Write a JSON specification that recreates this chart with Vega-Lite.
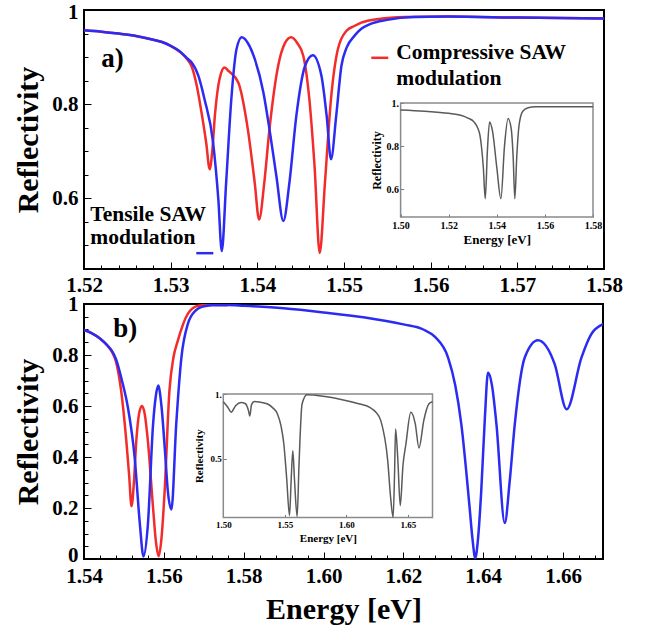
{
  "$schema": "https://vega.github.io/schema/vega-lite/v6.json",
  "padding": {"left": 12, "top": 0, "right": 5, "bottom": 5},
  "background": "white",
  "spacing": 35,
  "bounds": "flush",
  "config": {
    "view": {"stroke": "black", "strokeWidth": 2},
    "font": "Liberation Serif",
    "axis": {
      "labelFont": "Liberation Serif",
      "titleFont": "Liberation Serif",
      "labelFontWeight": "bold",
      "titleFontWeight": "bold",
      "labelColor": "black",
      "titleColor": "black",
      "grid": false,
      "domain": false,
      "tickColor": "black",
      "labelFlush": false,
      "labelOverlap": false,
      "zindex": 1
    }
  },
  "datasets": {
    "aRed": [
      {"E": 1.520, "R": 0.957}, {"E": 1.522, "R": 0.954}, {"E": 1.524, "R": 0.950}, {"E": 1.526, "R": 0.945},
      {"E": 1.528, "R": 0.937}, {"E": 1.529, "R": 0.932}, {"E": 1.530, "R": 0.924}, {"E": 1.531, "R": 0.912},
      {"E": 1.532, "R": 0.893}, {"E": 1.5324, "R": 0.881}, {"E": 1.5330, "R": 0.840}, {"E": 1.5335, "R": 0.789},
      {"E": 1.5341, "R": 0.718}, {"E": 1.5345, "R": 0.662}, {"E": 1.5348, "R": 0.700}, {"E": 1.5351, "R": 0.775},
      {"E": 1.5355, "R": 0.840}, {"E": 1.5358, "R": 0.865}, {"E": 1.5362, "R": 0.878}, {"E": 1.5367, "R": 0.870},
      {"E": 1.5378, "R": 0.846}, {"E": 1.5389, "R": 0.747}, {"E": 1.5397, "R": 0.633}, {"E": 1.5402, "R": 0.555},
      {"E": 1.5408, "R": 0.633}, {"E": 1.5414, "R": 0.747}, {"E": 1.5424, "R": 0.881}, {"E": 1.5432, "R": 0.930},
      {"E": 1.5439, "R": 0.942}, {"E": 1.5446, "R": 0.930}, {"E": 1.5453, "R": 0.903}, {"E": 1.5460, "R": 0.811},
      {"E": 1.5466, "R": 0.669}, {"E": 1.5472, "R": 0.484}, {"E": 1.5478, "R": 0.633}, {"E": 1.5485, "R": 0.811},
      {"E": 1.5493, "R": 0.917}, {"E": 1.5503, "R": 0.956}, {"E": 1.5512, "R": 0.966}, {"E": 1.552, "R": 0.973},
      {"E": 1.554, "R": 0.981}, {"E": 1.557, "R": 0.985}, {"E": 1.562, "R": 0.986}, {"E": 1.570, "R": 0.984},
      {"E": 1.580, "R": 0.982}
    ],
    "aBlue": [
      {"E": 1.520, "R": 0.957}, {"E": 1.522, "R": 0.954}, {"E": 1.524, "R": 0.950}, {"E": 1.526, "R": 0.945},
      {"E": 1.528, "R": 0.937}, {"E": 1.529, "R": 0.932}, {"E": 1.530, "R": 0.924}, {"E": 1.531, "R": 0.913},
      {"E": 1.532, "R": 0.896}, {"E": 1.5324, "R": 0.889}, {"E": 1.5332, "R": 0.860}, {"E": 1.5339, "R": 0.811},
      {"E": 1.5349, "R": 0.718}, {"E": 1.5355, "R": 0.598}, {"E": 1.5359, "R": 0.488}, {"E": 1.5364, "R": 0.633},
      {"E": 1.5370, "R": 0.811}, {"E": 1.5376, "R": 0.917}, {"E": 1.5382, "R": 0.942}, {"E": 1.5389, "R": 0.930},
      {"E": 1.5397, "R": 0.896}, {"E": 1.5407, "R": 0.825}, {"E": 1.5414, "R": 0.747}, {"E": 1.5422, "R": 0.647},
      {"E": 1.5430, "R": 0.552}, {"E": 1.5437, "R": 0.633}, {"E": 1.5445, "R": 0.775}, {"E": 1.5455, "R": 0.881},
      {"E": 1.5464, "R": 0.904}, {"E": 1.5474, "R": 0.860}, {"E": 1.5480, "R": 0.775}, {"E": 1.5485, "R": 0.683},
      {"E": 1.5491, "R": 0.775}, {"E": 1.5497, "R": 0.881}, {"E": 1.5503, "R": 0.920}, {"E": 1.5512, "R": 0.945},
      {"E": 1.552, "R": 0.960}, {"E": 1.553, "R": 0.970}, {"E": 1.555, "R": 0.979}, {"E": 1.558, "R": 0.985},
      {"E": 1.562, "R": 0.986}, {"E": 1.570, "R": 0.984}, {"E": 1.580, "R": 0.982}
    ],
    "aIn": [
      {"E": 1.500, "R": 0.968}, {"E": 1.510, "R": 0.962}, {"E": 1.520, "R": 0.952}, {"E": 1.525, "R": 0.943},
      {"E": 1.528, "R": 0.930}, {"E": 1.5306, "R": 0.911}, {"E": 1.532, "R": 0.885}, {"E": 1.533, "R": 0.850},
      {"E": 1.5336, "R": 0.800}, {"E": 1.5344, "R": 0.700}, {"E": 1.5352, "R": 0.555}, {"E": 1.5361, "R": 0.780},
      {"E": 1.5370, "R": 0.912}, {"E": 1.5382, "R": 0.870}, {"E": 1.5400, "R": 0.700}, {"E": 1.5417, "R": 0.555},
      {"E": 1.5432, "R": 0.800}, {"E": 1.5447, "R": 0.928}, {"E": 1.5460, "R": 0.880}, {"E": 1.5468, "R": 0.750},
      {"E": 1.5475, "R": 0.555}, {"E": 1.5483, "R": 0.750}, {"E": 1.5493, "R": 0.900}, {"E": 1.5508, "R": 0.962},
      {"E": 1.553, "R": 0.978}, {"E": 1.556, "R": 0.983}, {"E": 1.580, "R": 0.982}
    ],
    "bRed": [
      {"E": 1.540, "R": 0.898}, {"E": 1.542, "R": 0.885}, {"E": 1.544, "R": 0.865}, {"E": 1.546, "R": 0.835},
      {"E": 1.547, "R": 0.812}, {"E": 1.548, "R": 0.775}, {"E": 1.5493, "R": 0.660}, {"E": 1.5506, "R": 0.463},
      {"E": 1.5513, "R": 0.330}, {"E": 1.5519, "R": 0.207}, {"E": 1.5525, "R": 0.300}, {"E": 1.5531, "R": 0.463},
      {"E": 1.5538, "R": 0.570}, {"E": 1.5545, "R": 0.600}, {"E": 1.5552, "R": 0.570}, {"E": 1.5560, "R": 0.463},
      {"E": 1.5573, "R": 0.200}, {"E": 1.5580, "R": 0.070}, {"E": 1.5587, "R": 0.011}, {"E": 1.5594, "R": 0.080},
      {"E": 1.5602, "R": 0.266}, {"E": 1.5614, "R": 0.660}, {"E": 1.5624, "R": 0.790}, {"E": 1.5635, "R": 0.856},
      {"E": 1.5660, "R": 0.961}, {"E": 1.5686, "R": 0.993}, {"E": 1.572, "R": 0.997}, {"E": 1.576, "R": 0.995}
    ],
    "bBlue": [
      {"E": 1.540, "R": 0.898}, {"E": 1.542, "R": 0.885}, {"E": 1.544, "R": 0.865}, {"E": 1.546, "R": 0.835},
      {"E": 1.547, "R": 0.816}, {"E": 1.548, "R": 0.785}, {"E": 1.5495, "R": 0.700}, {"E": 1.5510, "R": 0.594},
      {"E": 1.5527, "R": 0.397}, {"E": 1.5540, "R": 0.136}, {"E": 1.5549, "R": 0.010}, {"E": 1.5560, "R": 0.135},
      {"E": 1.5573, "R": 0.528}, {"E": 1.5580, "R": 0.640}, {"E": 1.5586, "R": 0.680}, {"E": 1.5594, "R": 0.600},
      {"E": 1.5603, "R": 0.420}, {"E": 1.5610, "R": 0.266}, {"E": 1.5619, "R": 0.194}, {"E": 1.5631, "R": 0.528},
      {"E": 1.5644, "R": 0.790}, {"E": 1.5660, "R": 0.921}, {"E": 1.5680, "R": 0.975}, {"E": 1.5698, "R": 0.990},
      {"E": 1.572, "R": 0.995}, {"E": 1.576, "R": 0.996}, {"E": 1.580, "R": 0.993}, {"E": 1.590, "R": 0.983},
      {"E": 1.600, "R": 0.967}, {"E": 1.610, "R": 0.948}, {"E": 1.620, "R": 0.920}, {"E": 1.625, "R": 0.900},
      {"E": 1.628, "R": 0.870}, {"E": 1.6312, "R": 0.790}, {"E": 1.633, "R": 0.680}, {"E": 1.6345, "R": 0.530},
      {"E": 1.6366, "R": 0.200}, {"E": 1.6373, "R": 0.080}, {"E": 1.638, "R": 0.004}, {"E": 1.6387, "R": 0.080},
      {"E": 1.6395, "R": 0.266}, {"E": 1.6404, "R": 0.550}, {"E": 1.6412, "R": 0.731}, {"E": 1.6422, "R": 0.680},
      {"E": 1.6433, "R": 0.530}, {"E": 1.6454, "R": 0.141}, {"E": 1.6466, "R": 0.300}, {"E": 1.6479, "R": 0.528},
      {"E": 1.6504, "R": 0.790}, {"E": 1.6537, "R": 0.858}, {"E": 1.6579, "R": 0.764}, {"E": 1.6609, "R": 0.587},
      {"E": 1.6646, "R": 0.790}, {"E": 1.6670, "R": 0.880}, {"E": 1.6700, "R": 0.921}
    ],
    "bIn": [
      {"E": 1.500, "R": 0.940}, {"E": 1.5035, "R": 0.900}, {"E": 1.5064, "R": 0.860}, {"E": 1.510, "R": 0.910},
      {"E": 1.5145, "R": 0.935}, {"E": 1.518, "R": 0.925}, {"E": 1.5205, "R": 0.870}, {"E": 1.5215, "R": 0.830},
      {"E": 1.523, "R": 0.920}, {"E": 1.5252, "R": 0.943}, {"E": 1.530, "R": 0.937}, {"E": 1.536, "R": 0.923},
      {"E": 1.540, "R": 0.895}, {"E": 1.544, "R": 0.846}, {"E": 1.547, "R": 0.750}, {"E": 1.5492, "R": 0.615},
      {"E": 1.5515, "R": 0.350}, {"E": 1.5538, "R": 0.064}, {"E": 1.5552, "R": 0.350}, {"E": 1.5565, "R": 0.564},
      {"E": 1.5578, "R": 0.350}, {"E": 1.5600, "R": 0.056}, {"E": 1.5615, "R": 0.450}, {"E": 1.564, "R": 0.923},
      {"E": 1.568, "R": 0.995}, {"E": 1.575, "R": 0.990}, {"E": 1.5948, "R": 0.960}, {"E": 1.610, "R": 0.925},
      {"E": 1.619, "R": 0.897}, {"E": 1.624, "R": 0.860}, {"E": 1.628, "R": 0.795}, {"E": 1.6336, "R": 0.487},
      {"E": 1.636, "R": 0.200}, {"E": 1.638, "R": 0.000}, {"E": 1.6392, "R": 0.400}, {"E": 1.640, "R": 0.730},
      {"E": 1.6418, "R": 0.500}, {"E": 1.6438, "R": 0.141}, {"E": 1.646, "R": 0.450}, {"E": 1.6484, "R": 0.615},
      {"E": 1.6524, "R": 0.859}, {"E": 1.656, "R": 0.770}, {"E": 1.659, "R": 0.585}, {"E": 1.663, "R": 0.800},
      {"E": 1.667, "R": 0.923}, {"E": 1.670, "R": 0.940}
    ]
  },
  "vconcat": [
    {
      "width": 520,
      "height": 259,
      "resolve": {"scale": {"x": "independent", "y": "independent"}},
      "layer": [
        {
          "layer": [
            {
              "data": {"name": "aRed"},
              "mark": {"type": "line", "color": "#f22b2b", "strokeWidth": 2.5, "interpolate": "monotone", "clip": true},
              "encoding": {
                "x": {"field": "E", "type": "quantitative",
                  "scale": {"domain": [1.52, 1.58], "nice": false, "zero": false},
                  "axis": {"orient": "bottom", "values": [1.52, 1.53, 1.54, 1.55, 1.56, 1.57, 1.58], "format": ".2f", "title": null,
                    "labelFontSize": 21, "tickSize": 7, "offset": -7, "labelPadding": 5}},
                "y": {"field": "R", "type": "quantitative",
                  "scale": {"domain": [0.45, 1.0], "nice": false, "zero": false},
                  "axis": {"orient": "left", "values": [0.6, 0.8, 1.0], "labelExpr": "datum.value == 1 ? '1' : format(datum.value, '.1f')",
                    "labelOffset": {"condition": {"test": "datum.value == 1", "value": 2}, "value": 0},
                    "title": "Reflectivity", "titleFontSize": 30, "labelFontSize": 21, "tickSize": 7, "offset": -7, "labelPadding": 6, "titlePadding": 8}}
              }
            },
            {
              "data": {"name": "aBlue"},
              "mark": {"type": "line", "color": "#2b2bf2", "strokeWidth": 2.5, "interpolate": "monotone", "clip": true},
              "encoding": {
                "x": {"field": "E", "type": "quantitative", "scale": {"domain": [1.52, 1.58], "nice": false, "zero": false}},
                "y": {"field": "R", "type": "quantitative", "scale": {"domain": [0.45, 1.0], "nice": false, "zero": false}}
              }
            },
            {
              "data": {"values": [
                {"E": 1.52073, "R": 0.5645, "label": "Tensile SAW"},
                {"E": 1.52073, "R": 0.5155, "label": "modulation"},
                {"E": 1.55603, "R": 0.909, "label": "Compressive SAW"},
                {"E": 1.55603, "R": 0.854, "label": "modulation"}
              ]},
              "mark": {"type": "text", "align": "left", "baseline": "middle", "font": "Liberation Serif", "fontWeight": "bold", "fontSize": 21.5, "color": "black"},
              "encoding": {
                "x": {"field": "E", "type": "quantitative", "scale": {"domain": [1.52, 1.58], "nice": false, "zero": false}},
                "y": {"field": "R", "type": "quantitative", "scale": {"domain": [0.45, 1.0], "nice": false, "zero": false}},
                "text": {"field": "label"}
              }
            },
            {
              "data": {"values": [{"E": 1.5220, "R": 0.896, "label": "a)"}]},
              "mark": {"type": "text", "align": "left", "baseline": "middle", "font": "Liberation Serif", "fontWeight": "bold", "fontSize": 27, "color": "black"},
              "encoding": {
                "x": {"field": "E", "type": "quantitative", "scale": {"domain": [1.52, 1.58], "nice": false, "zero": false}},
                "y": {"field": "R", "type": "quantitative", "scale": {"domain": [0.45, 1.0], "nice": false, "zero": false}},
                "text": {"field": "label"}
              }
            },
            {
              "data": {"values": [
                {"E": 1.53296, "E2": 1.53492, "R": 0.4836, "series": "Tensile"},
                {"E": 1.55315, "E2": 1.55511, "R": 0.8985, "series": "Compressive"}
              ]},
              "mark": {"type": "rule", "strokeWidth": 2.5},
              "encoding": {
                "x": {"field": "E", "type": "quantitative", "scale": {"domain": [1.52, 1.58], "nice": false, "zero": false}},
                "x2": {"field": "E2"},
                "y": {"field": "R", "type": "quantitative", "scale": {"domain": [0.45, 1.0], "nice": false, "zero": false}},
                "color": {"field": "series", "type": "nominal", "scale": {"domain": ["Tensile", "Compressive"], "range": ["#2b2bf2", "#f22b2b"]}, "legend": null}
              }
            }
          ]
        },
        {
          "data": {"name": "aRed"},
          "mark": {"type": "point", "opacity": 0},
          "encoding": {
            "x": {"field": "E", "type": "quantitative",
              "scale": {"domain": [1.52, 1.58], "nice": false, "zero": false},
              "axis": {"orient": "bottom", "values": [1.522, 1.524, 1.526, 1.528, 1.532, 1.534, 1.536, 1.538, 1.542, 1.544, 1.546, 1.548, 1.552, 1.554, 1.556, 1.558, 1.562, 1.564, 1.566, 1.568, 1.572, 1.574, 1.576, 1.578],
                "labels": false, "title": null, "tickSize": 4, "offset": -4}},
            "y": {"field": "R", "type": "quantitative",
              "scale": {"domain": [0.45, 1.0], "nice": false, "zero": false},
              "axis": {"orient": "left", "values": [0.5, 0.55, 0.65, 0.7, 0.75, 0.85, 0.9, 0.95],
                "labels": false, "title": null, "tickSize": 4, "offset": -4}}
          }
        },
        {
          "layer": [
            {
              "data": {"values": [{"e0": 1.50, "e1": 1.58, "r0": 0.47, "r1": 1.0}]},
              "mark": {"type": "rect", "fillOpacity": 0, "stroke": "#8a8a8a", "strokeWidth": 1.5},
              "encoding": {
                "x": {"field": "e0", "type": "quantitative",
                  "scale": {"domain": [1.50, 1.58], "range": [316.6, 509], "nice": false, "zero": false},
                  "axis": {"orient": "bottom", "offset": -55, "values": [1.50, 1.52, 1.54, 1.56, 1.58], "format": ".2f",
                    "title": "Energy [eV]", "titleFontSize": 13, "labelFontSize": 10, "tickSize": 3, "tickColor": "#777",
                    "labelPadding": 3, "titlePadding": 3}},
                "x2": {"field": "e1"},
                "y": {"field": "r0", "type": "quantitative",
                  "scale": {"domain": [0.47, 1.0], "range": [207, 93], "nice": false, "zero": false},
                  "axis": {"orient": "left", "offset": -319.6, "values": [0.6, 0.8, 1.0], "labelExpr": "datum.value == 1 ? '1.' : format(datum.value, '.1f')",
                    "title": "Reflectivity", "titleFontSize": 12, "labelFontSize": 10, "tickSize": 3, "tickColor": "#777",
                    "labelPadding": 2, "titlePadding": 3}},
                "y2": {"field": "r1"}
              }
            },
            {
              "data": {"name": "aIn"},
              "mark": {"type": "line", "color": "#5a5a5a", "strokeWidth": 1.5, "interpolate": "monotone"},
              "encoding": {
                "x": {"field": "E", "type": "quantitative", "scale": {"domain": [1.50, 1.58], "range": [316.6, 509], "nice": false, "zero": false}},
                "y": {"field": "R", "type": "quantitative", "scale": {"domain": [0.47, 1.0], "range": [207, 93], "nice": false, "zero": false}}
              }
            }
          ]
        }
      ]
    },
    {
      "width": 519,
      "height": 255,
      "resolve": {"scale": {"x": "independent", "y": "independent"}},
      "layer": [
        {
          "layer": [
            {
              "data": {"name": "bRed"},
              "mark": {"type": "line", "color": "#f22b2b", "strokeWidth": 2.5, "interpolate": "monotone", "clip": true},
              "encoding": {
                "x": {"field": "E", "type": "quantitative",
                  "scale": {"domain": [1.54, 1.67], "nice": false, "zero": false},
                  "axis": {"orient": "bottom", "values": [1.54, 1.56, 1.58, 1.60, 1.62, 1.64, 1.66], "format": ".2f", "title": "Energy [eV]",
                    "titleFontSize": 30, "labelFontSize": 21, "tickSize": 7, "offset": -7, "labelPadding": 6, "titlePadding": 8}},
                "y": {"field": "R", "type": "quantitative",
                  "scale": {"domain": [0, 1.0], "nice": false, "zero": false},
                  "axis": {"orient": "left", "values": [0, 0.2, 0.4, 0.6, 0.8, 1.0], "labelExpr": "datum.value == 1 ? '1' : datum.value == 0 ? '0' : format(datum.value, '.1f')",
                    "labelOffset": {"condition": {"test": "datum.value == 0", "value": -4}, "value": 0},
                    "title": "Reflectivity", "titleFontSize": 30, "labelFontSize": 21, "tickSize": 7, "offset": -7, "labelPadding": 6, "titlePadding": 8}}
              }
            },
            {
              "data": {"name": "bBlue"},
              "mark": {"type": "line", "color": "#2b2bf2", "strokeWidth": 2.5, "interpolate": "monotone", "clip": true},
              "encoding": {
                "x": {"field": "E", "type": "quantitative", "scale": {"domain": [1.54, 1.67], "nice": false, "zero": false}},
                "y": {"field": "R", "type": "quantitative", "scale": {"domain": [0, 1.0], "nice": false, "zero": false}}
              }
            },
            {
              "data": {"values": [{"E": 1.54734, "R": 0.903, "label": "b)"}]},
              "mark": {"type": "text", "align": "left", "baseline": "middle", "font": "Liberation Serif", "fontWeight": "bold", "fontSize": 27, "color": "black"},
              "encoding": {
                "x": {"field": "E", "type": "quantitative", "scale": {"domain": [1.54, 1.67], "nice": false, "zero": false}},
                "y": {"field": "R", "type": "quantitative", "scale": {"domain": [0, 1.0], "nice": false, "zero": false}},
                "text": {"field": "label"}
              }
            }
          ]
        },
        {
          "data": {"name": "bBlue"},
          "mark": {"type": "point", "opacity": 0},
          "encoding": {
            "x": {"field": "E", "type": "quantitative",
              "scale": {"domain": [1.54, 1.67], "nice": false, "zero": false},
              "axis": {"orient": "bottom", "values": [1.544, 1.548, 1.552, 1.556, 1.564, 1.568, 1.572, 1.576, 1.584, 1.588, 1.592, 1.596, 1.604, 1.608, 1.612, 1.616, 1.624, 1.628, 1.632, 1.636, 1.644, 1.648, 1.652, 1.656, 1.664, 1.668],
                "labels": false, "title": null, "tickSize": 4, "offset": -4}},
            "y": {"field": "R", "type": "quantitative",
              "scale": {"domain": [0, 1.0], "nice": false, "zero": false},
              "axis": {"orient": "left", "values": [0.05, 0.1, 0.15, 0.25, 0.3, 0.35, 0.45, 0.5, 0.55, 0.65, 0.7, 0.75, 0.85, 0.9, 0.95],
                "labels": false, "title": null, "tickSize": 4, "offset": -4}}
          }
        },
        {
          "layer": [
            {
              "data": {"values": [{"e0": 1.50, "e1": 1.67, "r0": 0.05, "r1": 1.0}]},
              "mark": {"type": "rect", "fillOpacity": 0, "stroke": "#8a8a8a", "strokeWidth": 1.5},
              "encoding": {
                "x": {"field": "e0", "type": "quantitative",
                  "scale": {"domain": [1.50, 1.67], "range": [139.3, 348.5], "nice": false, "zero": false},
                  "axis": {"orient": "bottom", "offset": -44.6, "values": [1.50, 1.55, 1.60, 1.65], "format": ".2f",
                    "title": "Energy [eV]", "titleFontSize": 11, "labelFontSize": 9, "tickSize": 3, "tickColor": "#777",
                    "labelPadding": 3, "titlePadding": 3}},
                "x2": {"field": "e1"},
                "y": {"field": "r0", "type": "quantitative",
                  "scale": {"domain": [0.05, 1.0], "range": [213.4, 90], "nice": false, "zero": false, "clamp": true},
                  "axis": {"orient": "left", "offset": -142.3, "values": [0.5, 1.0], "labelExpr": "datum.value == 1 ? '1.' : format(datum.value, '.1f')",
                    "title": "Reflectivity", "titleFontSize": 11, "labelFontSize": 9, "tickSize": 3, "tickColor": "#777",
                    "labelPadding": 2, "titlePadding": 6}},
                "y2": {"field": "r1"}
              }
            },
            {
              "data": {"name": "bIn"},
              "mark": {"type": "line", "color": "#5a5a5a", "strokeWidth": 1.5, "interpolate": "monotone"},
              "encoding": {
                "x": {"field": "E", "type": "quantitative", "scale": {"domain": [1.50, 1.67], "range": [139.3, 348.5], "nice": false, "zero": false}},
                "y": {"field": "R", "type": "quantitative", "scale": {"domain": [0.05, 1.0], "range": [213.4, 90], "nice": false, "zero": false, "clamp": true}}
              }
            }
          ]
        }
      ]
    }
  ]
}
